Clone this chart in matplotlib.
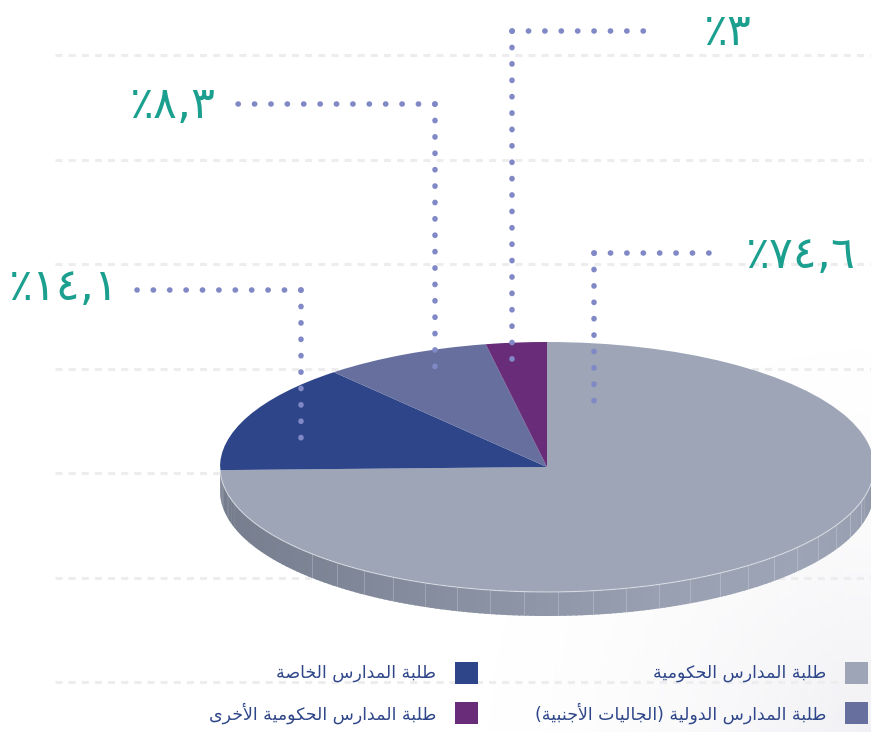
import matplotlib
matplotlib.use("Agg")
import matplotlib.pyplot as plt
import matplotlib.patches as patches
import numpy as np
from matplotlib.colors import to_rgb


categories = [
    "طلبة المدارس الحكومية",
    "طلبة المدارس الخاصة",
    "طلبة المدارس الدولية (الجاليات الأجنبية)",
    "طلبة المدارس الحكومية الأخرى",
]
shares = [74.6, 14.1, 8.3, 3.0]
colors = ["#9da5b7", "#2e4689", "#666f9e", "#682c78"]

W, H = 871, 732
CX, CY, RX, RY = 547, 467, 327, 125
DEPTH = 24

TEAL = "#1b9f8e"
DOT = "#8088c6"
GRID = "#ededed"
TEXT = "#2e4689"

# very small arabic shaper: matplotlib does no joining / bidi by itself
DUAL = {0x0626: 0xFE89, 0x0628: 0xFE8F, 0x062A: 0xFE95, 0x062B: 0xFE99, 0x062C: 0xFE9D,
        0x062D: 0xFEA1, 0x062E: 0xFEA5, 0x0633: 0xFEB1, 0x0634: 0xFEB5, 0x0635: 0xFEB9,
        0x0636: 0xFEBD, 0x0637: 0xFEC1, 0x0638: 0xFEC5, 0x0639: 0xFEC9, 0x063A: 0xFECD,
        0x0641: 0xFED1, 0x0642: 0xFED5, 0x0643: 0xFED9, 0x0644: 0xFEDD, 0x0645: 0xFEE1,
        0x0646: 0xFEE5, 0x0647: 0xFEE9, 0x064A: 0xFEF1}
RIGHT = {0x0622: 0xFE81, 0x0623: 0xFE83, 0x0624: 0xFE85, 0x0625: 0xFE87, 0x0627: 0xFE8D,
         0x0629: 0xFE93, 0x062F: 0xFEA9, 0x0630: 0xFEAB, 0x0631: 0xFEAD, 0x0632: 0xFEAF,
         0x0648: 0xFEED, 0x0649: 0xFEEF}
LAM_ALEF = {0x0622: 0xFEF5, 0x0623: 0xFEF7, 0x0625: 0xFEF9, 0x0627: 0xFEFB}


def shape_arabic(text):
    tokens = []
    i = 0
    while i < len(text):
        c = ord(text[i])
        if c == 0x0644 and i + 1 < len(text) and ord(text[i + 1]) in LAM_ALEF:
            tokens.append(("R", LAM_ALEF[ord(text[i + 1])]))
            i += 2
            continue
        if c in DUAL:
            tokens.append(("D", DUAL[c]))
        elif c in RIGHT:
            tokens.append(("R", RIGHT[c]))
        else:
            tokens.append(("N", text[i]))
        i += 1

    out = []
    for k, (kind, val) in enumerate(tokens):
        if kind == "N":
            out.append(val)
            continue
        jp = k > 0 and tokens[k - 1][0] == "D"
        jn = kind == "D" and k + 1 < len(tokens) and tokens[k + 1][0] in "DR"
        if kind == "D":
            off = 3 if (jp and jn) else 1 if jp else 2 if jn else 0
        else:
            off = 1 if jp else 0
        out.append(chr(val + off))
    mirror = {"(": ")", ")": "("}
    return "".join(mirror.get(c, c) for c in reversed(out))


def arabic_percent(v):
    digits = "٠١٢٣٤٥٦٧٨٩"
    s = f"{v:.1f}".rstrip("0").rstrip(".")
    s = "".join(digits[int(c)] if c.isdigit() else "," for c in s)
    return "٪" + s


fig = plt.figure(figsize=(W / 100, H / 100), dpi=100)

# background with gridlines
ax_bg = fig.add_axes([0, 0, 1, 1])
ax_bg.set_xlim(0, W)
ax_bg.set_ylim(H, 0)
ax_bg.axis("off")

yy, xx = np.mgrid[0:H, 0:W]
dist = np.hypot(xx - W, yy - H)
shade = np.clip(1 - dist / 400, 0, 1) ** 1.6
bg = np.zeros((H, W, 4))
bg[..., :3] = to_rgb("#e8e8ee")
bg[..., 3] = shade * 0.6
ax_bg.imshow(bg, extent=(0, W, H, 0), aspect="auto", zorder=0)

for gy in np.arange(55, 700, 104.5):
    ax_bg.plot([55, W], [gy, gy], color=GRID, lw=2.2, dashes=(2.3, 2.0),
               dash_capstyle="butt", zorder=1)

# pie axes, stretched so the unit circle becomes the ellipse
x0, x1, y0, y1 = -1.02, 1.02, -1.25, 1.03
left = (CX + x0 * RX) / W
width = (x1 - x0) * RX / W
top = CY - y1 * RY
bottom = CY - y0 * RY
pax = fig.add_axes([left, (H - bottom) / H, width, (bottom - top) / H])
pax.patch.set_alpha(0)

# side of the disc
d = DEPTH / RY
stops_a = np.array([180, 230, 265, 290, 320, 345, 360])
stops_c = np.array([to_rgb(c) for c in
                    ["#737b8b", "#7d8596", "#8c94a5", "#98a0b1", "#9ca4b5", "#969eaf", "#8891a2"]])
th = np.linspace(180, 360, 181)
for a0, a1 in zip(th[:-1], th[1:]):
    am = (a0 + a1) / 2
    col = [np.interp(am, stops_a, stops_c[:, j]) for j in range(3)]
    t = np.radians([a0, a1 + 0.3])
    xs = np.cos(t)
    ys = np.sin(t)
    poly = [(xs[0], ys[0]), (xs[1], ys[1]), (xs[1], ys[1] - d), (xs[0], ys[0] - d)]
    pax.add_patch(patches.Polygon(poly, closed=True, facecolor=col, edgecolor="none", zorder=1))

for a in np.arange(224, 350, 6):
    t = np.radians(a)
    pax.plot([np.cos(t), np.cos(t)], [np.sin(t), np.sin(t) - d],
             color="white", lw=0.7, alpha=0.22, zorder=2)

pax.pie(shares, colors=colors, startangle=90, counterclock=False, radius=1,
        center=(0, 0), frame=True, wedgeprops=dict(linewidth=0, zorder=3))
t = np.radians(np.linspace(180, 360, 200))
pax.plot(np.cos(t), np.sin(t), color="white", lw=0.8, alpha=0.5, zorder=4)

pax.set_aspect("auto")
pax.set_xlim(x0, x1)
pax.set_ylim(y0, y1)
pax.axis("off")

# leaders, labels, legend on top
ax = fig.add_axes([0, 0, 1, 1])
ax.set_xlim(0, W)
ax.set_ylim(H, 0)
ax.axis("off")
ax.patch.set_alpha(0)

# (text x, baseline y, align, end of horizontal, corner x, corner y, bottom y)
leaders = [
    (745, 268, "left", 722, 594, 253, 416),
    (8, 300, "left", 137, 301, 290, 452),
    (215, 118, "right", 235, 435, 104, 379),
    (703, 45, "left", 658, 512, 31, 372),
]

for v, (tx, ty, ha, hx, cx, cy, by) in zip(shares, leaders):
    for xs, ys in (([cx, hx], [cy, cy]), ([cx, cx], [cy, by])):
        ax.plot(xs, ys, color=DOT, lw=4.0, dashes=(0.05, 2.9),
                dash_capstyle="round", zorder=5)
    ax.text(tx, ty, arabic_percent(v), color=TEAL, fontsize=32, ha=ha, va="baseline",
            family=["DejaVu Sans"], zorder=6)

legend_x = [868, 478]
legend_y = [673, 713]
for i, (name, col) in enumerate(zip(categories, colors)):
    sx = legend_x[i % 2]
    sy = legend_y[i // 2]
    ax.add_patch(patches.Rectangle((sx - 23, sy - 11), 23, 22, facecolor=col,
                                   edgecolor="none", zorder=5))
    ax.text(sx - 42, sy, shape_arabic(name), color=TEXT, fontsize=12.5, ha="right",
            va="center", family=["DejaVu Sans"], zorder=6)

fig.savefig("out.png", dpi=100)
